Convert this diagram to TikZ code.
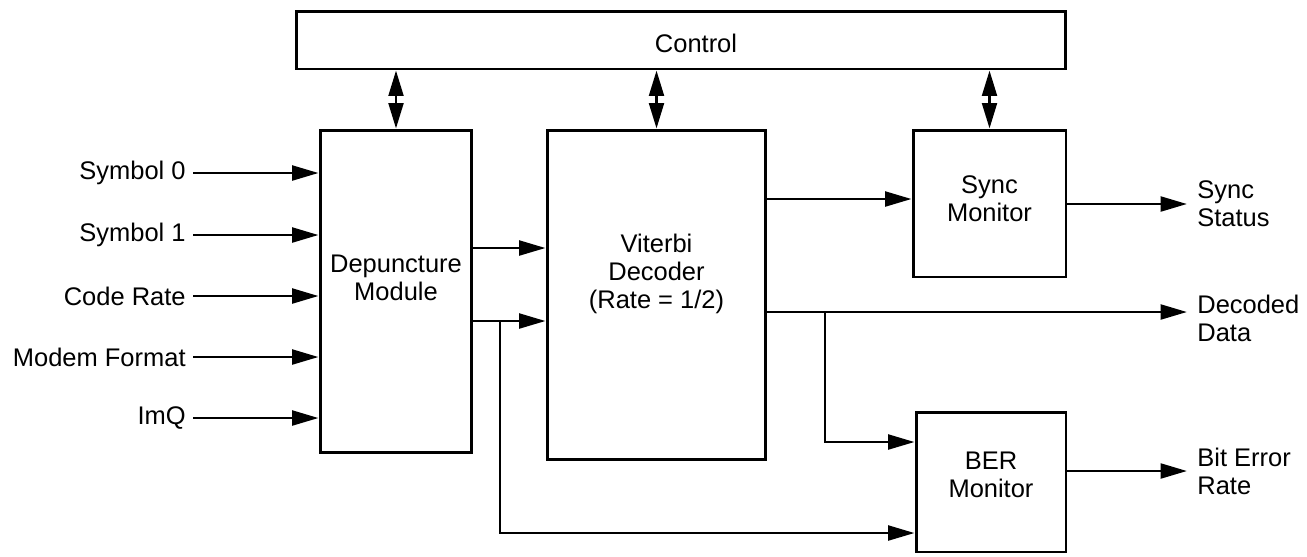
\documentclass[tikz,border=0pt]{standalone}
\usepackage{fontspec}
\setmainfont{Liberation Sans}
\usetikzlibrary{arrows.meta}

\tikzset{
  blk/.style={draw, line width=1.7pt, inner sep=0pt},
  txt/.style={align=center},
  sig/.style={line width=1.6pt, -{Triangle[length=15pt,width=8.4pt]}},
  bus/.style={line width=1.6pt, {Triangle[length=14.5pt,width=8.4pt]}-{Triangle[length=14.5pt,width=8.4pt]}},
  inlbl/.style={anchor=east, inner sep=0pt},
  outlbl/.style={anchor=west, inner sep=0pt, align=left}
}

\begin{document}
\begin{tikzpicture}[x=0.02cm, y=-0.02cm, font=\fontsize{14.5}{16}\selectfont]
    \useasboundingbox (0,0) rectangle (1307,556);
    % blocks
    \node[blk, minimum width=15.4cm, minimum height=1.16cm,
          label={[xshift=0.3cm, yshift=-0.07cm]center:Control}] (ctrl) at (681,40) {};
    \node[blk, minimum width=3.04cm, minimum height=6.46cm,
          label={[txt, yshift=0.28cm]center:{Depuncture\\Module}}] (dep) at (396,291.5) {};
    \node[blk, minimum width=4.38cm, minimum height=6.6cm,
          label={[txt, yshift=0.42cm]center:{Viterbi\\Decoder\\(Rate = 1/2)}}] (vit) at (656.5,295) {};
    \node[blk, minimum width=3.06cm, minimum height=2.94cm,
          label={[txt, yshift=0.1cm]center:{Sync\\Monitor}}] (sync) at (989.5,203.5) {};
    \node[blk, minimum width=3.0cm, minimum height=2.8cm,
          label={[txt, yshift=0.14cm]center:{BER\\Monitor}}] (ber) at (991,482) {};
    % control bus
    \foreach \b in {dep,vit,sync} {
      \draw[bus] (\b.north |- ctrl.south) -- (\b.north);
    }
    % inputs
    \foreach \y/\n/\t in {173/sym0/Symbol 0, 235/sym1/Symbol 1, 296/rate/Code Rate,
                          357/fmt/Modem Format, 418/imq/ImQ} {
      \node[inlbl] (\n) at (186,\y) {\t};
      \draw[sig] ([xshift=0.14cm]\n.east) -- (dep.west |- \n.east);
    }
    % outputs
    \node[outlbl] (stat) at (1197,204) {Sync\\Status};
    \node[outlbl] (data) at (1197,318) {Decoded\\Data};
    \node[outlbl] (berr) at (1197,471) {Bit Error\\Rate};
    % connections
    \coordinate (tapA) at (500,321);
    \coordinate (tapB) at (825,312);
    \draw[sig] (dep.east |- 0,248) -- (vit.west |- 0,248);
    \draw[sig] (dep.east |- tapA) -- (vit.west |- tapA);
    \draw[sig] (tapA) |- (ber.west |- 0,533);
    \draw[sig] (vit.east |- 0,199) -- (sync.west |- 0,199);
    \draw[sig, shorten >=0.2cm] (vit.east |- tapB) -- (data.west |- tapB);
    \draw[sig] (tapB) |- (ber.west |- 0,442);
    \draw[sig] (sync.east |- stat.west) -- ([xshift=-0.2cm]stat.west);
    \draw[sig] (ber.east |- berr.west) -- ([xshift=-0.2cm]berr.west);
\end{tikzpicture}
\end{document}
